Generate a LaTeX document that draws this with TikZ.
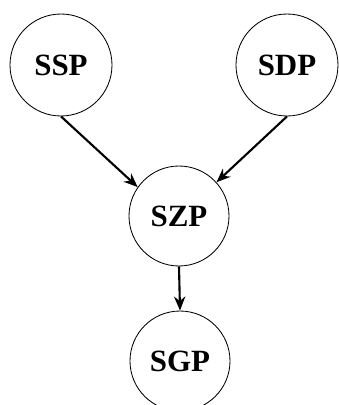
\documentclass[tikz,border=0pt]{standalone}
\usepackage{fontspec}
\setmainfont{Liberation Serif}
\usetikzlibrary{arrows.meta}
\begin{document}
\begin{tikzpicture}[state/.style={draw, circle, line width=0.6pt, inner sep=0pt, minimum size=2.55cm, font=\fontsize{22}{26}\selectfont\bfseries},
        link/.style={line width=1.5pt, -{Stealth[length=10pt, width=8pt]}}]
        \useasboundingbox (0.0, 0.0) rectangle (8.45, -10.125);
        \node [state] (ssp) at (1.525, -1.625) {SSP};
        \node [state] (sdp) at (7.175, -1.625) {SDP};
        \node [state, minimum size=2.5cm] (szp) at (4.475, -5.4) {SZP};
        \node [state, minimum size=2.5cm] (sgp) at (4.5, -9.025) {SGP};
        \draw [link] (ssp.south) -- (szp.145);
        \draw [link] (sdp.south) -- (szp.42);
        \draw [link] (szp.south) -- (sgp.north);
      \end{tikzpicture}
\end{document}
